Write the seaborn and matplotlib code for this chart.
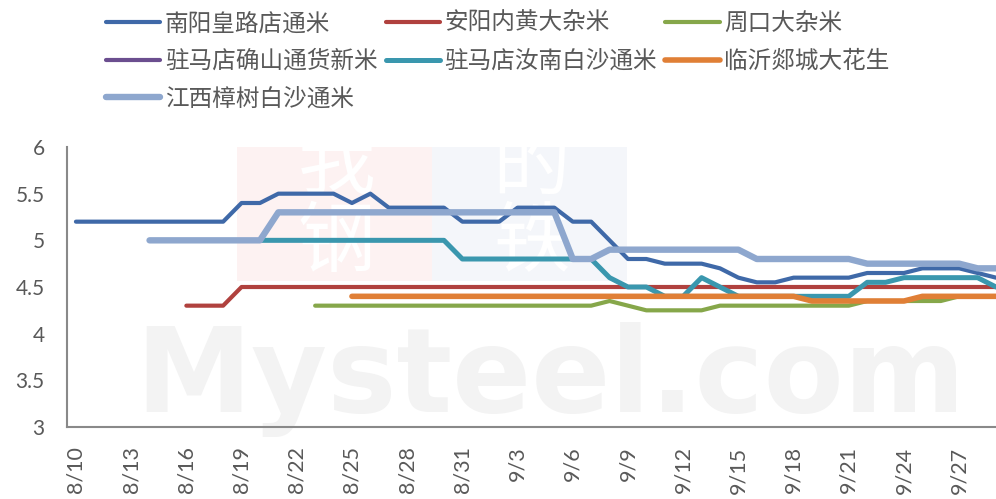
import pandas as pd
import seaborn as sns
import matplotlib.pyplot as plt
from matplotlib.lines import Line2D
from matplotlib.patches import Rectangle

# 日期（8/10 - 9/29）
dates = ['8/10', '8/11', '8/12', '8/13', '8/14', '8/15', '8/16', '8/17', '8/18', '8/19',
         '8/20', '8/21', '8/22', '8/23', '8/24', '8/25', '8/26', '8/27', '8/28', '8/29',
         '8/30', '8/31', '9/1', '9/2', '9/3', '9/4', '9/5', '9/6', '9/7', '9/8',
         '9/9', '9/10', '9/11', '9/12', '9/13', '9/14', '9/15', '9/16', '9/17', '9/18',
         '9/19', '9/20', '9/21', '9/22', '9/23', '9/24', '9/25', '9/26', '9/27', '9/28',
         '9/29']

N = None
nanyang = [5.2, 5.2, 5.2, 5.2, 5.2, 5.2, 5.2, 5.2, 5.2, 5.4,
           5.4, 5.5, 5.5, 5.5, 5.5, 5.4, 5.5, 5.35, 5.35, 5.35,
           5.35, 5.2, 5.2, 5.2, 5.35, 5.35, 5.35, 5.2, 5.2, 5.0,
           4.8, 4.8, 4.75, 4.75, 4.75, 4.7, 4.6, 4.55, 4.55, 4.6,
           4.6, 4.6, 4.6, 4.65, 4.65, 4.65, 4.7, 4.7, 4.7, 4.65,
           4.6]
anyang = [N, N, N, N, N, N, 4.3, 4.3, 4.3, 4.5,
          4.5, 4.5, 4.5, 4.5, 4.5, 4.5, 4.5, 4.5, 4.5, 4.5,
          4.5, 4.5, 4.5, 4.5, 4.5, 4.5, 4.5, 4.5, 4.5, 4.5,
          4.5, 4.5, 4.5, 4.5, 4.5, 4.5, 4.5, 4.5, 4.5, 4.5,
          4.5, 4.5, 4.5, 4.5, 4.5, 4.5, 4.5, 4.5, 4.5, 4.5,
          4.5]
zhoukou = [N, N, N, N, N, N, N, N, N, N,
           N, N, N, 4.3, 4.3, 4.3, 4.3, 4.3, 4.3, 4.3,
           4.3, 4.3, 4.3, 4.3, 4.3, 4.3, 4.3, 4.3, 4.3, 4.35,
           4.3, 4.25, 4.25, 4.25, 4.25, 4.3, 4.3, 4.3, 4.3, 4.3,
           4.3, 4.3, 4.3, 4.35, 4.35, 4.35, 4.35, 4.35, 4.4, 4.4,
           4.4]
queshan = [N] * len(dates)
runan = [N, N, N, N, N, N, N, N, N, N,
         5.0, 5.0, 5.0, 5.0, 5.0, 5.0, 5.0, 5.0, 5.0, 5.0,
         5.0, 4.8, 4.8, 4.8, 4.8, 4.8, 4.8, 4.8, 4.8, 4.6,
         4.5, 4.5, 4.4, 4.4, 4.6, 4.5, 4.4, 4.4, 4.4, 4.4,
         4.4, 4.4, 4.4, 4.55, 4.55, 4.6, 4.6, 4.6, 4.6, 4.6,
         4.5]
linyi = [N, N, N, N, N, N, N, N, N, N,
         N, N, N, N, N, 4.4, 4.4, 4.4, 4.4, 4.4,
         4.4, 4.4, 4.4, 4.4, 4.4, 4.4, 4.4, 4.4, 4.4, 4.4,
         4.4, 4.4, 4.4, 4.4, 4.4, 4.4, 4.4, 4.4, 4.4, 4.4,
         4.35, 4.35, 4.35, 4.35, 4.35, 4.35, 4.4, 4.4, 4.4, 4.4,
         4.4]
jiangxi = [N, N, N, N, 5.0, 5.0, 5.0, 5.0, 5.0, 5.0,
           5.0, 5.3, 5.3, 5.3, 5.3, 5.3, 5.3, 5.3, 5.3, 5.3,
           5.3, 5.3, 5.3, 5.3, 5.3, 5.3, 5.3, 4.8, 4.8, 4.9,
           4.9, 4.9, 4.9, 4.9, 4.9, 4.9, 4.9, 4.8, 4.8, 4.8,
           4.8, 4.8, 4.8, 4.75, 4.75, 4.75, 4.75, 4.75, 4.75, 4.7,
           4.7]

series_names = ['南阳皇路店通米', '安阳内黄大杂米', '周口大杂米', '驻马店确山通货新米',
                '驻马店汝南白沙通米', '临沂郯城大花生', '江西樟树白沙通米']
series_values = [nanyang, anyang, zhoukou, queshan, runan, linyi, jiangxi]
colors = ['#3F69A8', '#B0413E', '#86A74A', '#6B4E8F', '#3A97AE', '#E07F36', '#8EA7CE']
widths = [3.0, 3.0, 3.0, 3.0, 3.6, 4.0, 4.6]

sns.set_style('white')
plt.rcParams['font.family'] = ['Lato', 'Noto Sans CJK SC', 'DejaVu Sans']

fig = plt.figure(figsize=(9.96, 4.99), dpi=100)
ax = fig.add_axes([0.067, 0.1443, 0.933, 0.5611])

# 水印
ax.add_patch(Rectangle((0.183, 0.52), 0.21, 0.54, transform=ax.transAxes,
                       color='#FDF2F2', zorder=0, lw=0))
ax.add_patch(Rectangle((0.393, 0.52), 0.21, 0.54, transform=ax.transAxes,
                       color='#F4F6FA', zorder=0, lw=0))
ax.text(0.29, 0.79, '我\n钢', transform=ax.transAxes, ha='center', va='center',
        fontsize=56, color='white', family='Noto Sans CJK SC', zorder=0, linespacing=0.95)
ax.text(0.50, 0.79, '的\n铁', transform=ax.transAxes, ha='center', va='center',
        fontsize=56, color='white', family='Noto Sans CJK SC', zorder=0, linespacing=0.95)
ax.text(0.52, 0.17, 'Mysteel.com', transform=ax.transAxes, ha='center', va='center',
        fontsize=84, fontweight='bold', color='#F3F3F3', family='DejaVu Sans', zorder=0)

x = list(range(len(dates)))
handles = []
for name, vals, c, w in zip(series_names, series_values, colors, widths):
    df = pd.DataFrame({'x': x, 'y': pd.to_numeric(pd.Series(vals), errors='coerce')}).dropna()
    if len(df) > 0:
        sns.lineplot(data=df, x='x', y='y', ax=ax, color=c, linewidth=w,
                     solid_capstyle='round', zorder=2)
    handles.append(Line2D([0], [0], color=c, linewidth=w, solid_capstyle='round'))

ax.set_xlim(-0.5, 50)
ax.set_ylim(3, 6)
ax.set_yticks([3, 3.5, 4, 4.5, 5, 5.5, 6])
ax.set_yticklabels(['3', '3.5', '4', '4.5', '5', '5.5', '6'])
ax.set_xticks(x[::3])
ax.set_xticklabels(dates[::3], rotation=90, va='top', ha='center')
ax.set_xlabel('')
ax.set_ylabel('')
ax.tick_params(axis='y', length=0, pad=16, labelsize=15, labelcolor='#595959')
ax.tick_params(axis='x', length=0, pad=14, labelsize=15.5, labelcolor='#595959')

for s in ['top', 'right']:
    ax.spines[s].set_visible(False)
for s in ['left', 'bottom']:
    ax.spines[s].set_color('#898989')
    ax.spines[s].set_linewidth(1.5)

# 图例：按行排列
order = [0, 3, 6, 1, 4, 2, 5]
fig.legend([handles[i] for i in order], [series_names[i] for i in order],
           ncol=3, loc='upper left', bbox_to_anchor=(0.085, 1.018), frameon=False,
           prop={'family': 'Noto Sans CJK SC', 'size': 17}, labelcolor='#595959',
           handlelength=2.3, handletextpad=0.2, columnspacing=0.34, labelspacing=0.62)

plt.savefig('out.png', dpi=100)
